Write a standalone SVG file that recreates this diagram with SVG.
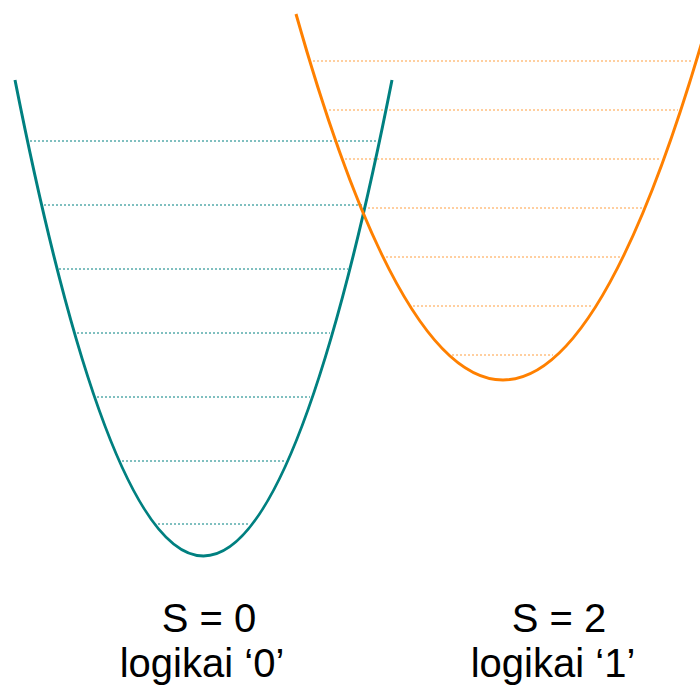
<svg xmlns="http://www.w3.org/2000/svg" width="700" height="691" viewBox="0 0 700 691">
<style>
.curve{fill:none;stroke-width:3}
.teal{stroke:#008080}
.orange{stroke:#FF8000}
.dt{stroke:#008080;stroke-width:1;stroke-dasharray:2 2;fill:none}
.do{stroke:#FF9F40;stroke-width:1;stroke-dasharray:2 2;fill:none}
.lbl{font-family:"Liberation Sans",Arial,sans-serif;font-size:40px;fill:#000;text-anchor:middle}
</style>
<rect width="700" height="691" fill="#fff"/>
<g id="levels-0">
<line class="dt" x1="30" y1="141" x2="377" y2="141"/>
<line class="dt" x1="44" y1="205" x2="363" y2="205"/>
<line class="dt" x1="59" y1="269" x2="348" y2="269"/>
<line class="dt" x1="77" y1="333" x2="330" y2="333"/>
<line class="dt" x1="97" y1="397" x2="310" y2="397"/>
<line class="dt" x1="122" y1="461" x2="285" y2="461"/>
<line class="dt" x1="158" y1="524" x2="250" y2="524"/>
</g>
<g id="levels-1">
<line class="do" x1="313" y1="61" x2="693" y2="61"/>
<line class="do" x1="329" y1="110" x2="678" y2="110"/>
<line class="do" x1="345" y1="159" x2="661" y2="159"/>
<line class="do" x1="364" y1="208" x2="642" y2="208"/>
<line class="do" x1="386" y1="257" x2="620" y2="257"/>
<line class="do" x1="413" y1="306" x2="593" y2="306"/>
<line class="do" x1="452" y1="355" x2="553" y2="355"/>
</g>
<g id="curve-0">
<path class="curve teal" d="M15,80 Q203.5,1032 392,80"/>
</g>
<g id="curve-1">
<path class="curve orange" d="M296,14 Q503,746 710,14"/>
</g>
<g id="label-0">
<text class="lbl" x="209" y="632">S = 0</text>
<text class="lbl" x="202" y="677">logikai ‘0’</text>
</g>
<g id="label-1">
<text class="lbl" x="559" y="632">S = 2</text>
<text class="lbl" x="553" y="677">logikai ‘1’</text>
</g>
</svg>
